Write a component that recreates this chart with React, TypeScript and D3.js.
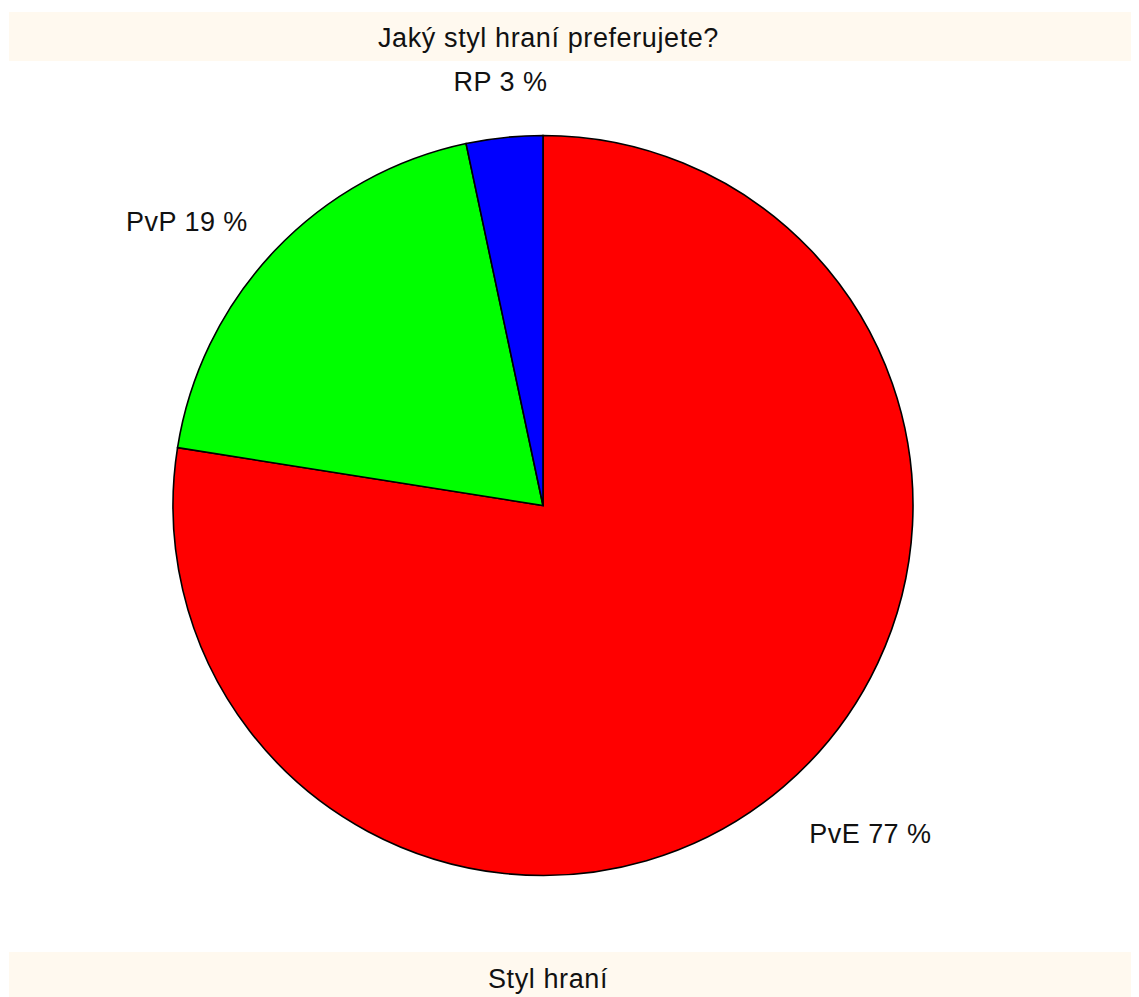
import React from "react";
import * as d3 from "d3";

const categories = ["PvE", "PvP", "RP"];
const counts = [93, 23, 4];
const percentLabels = ["77 %", "19 %", "3 %"];
const colors = ["#FF0000", "#00FF00", "#0000FF"];
const title = "Jaký styl hraní preferujete?";
const xTitle = "Styl hraní";

export default function App() {
  const W = 1139, H = 997;
  const cx = 543, cy = 505.5, r = 370;
  const fs = 27;
  const pie = d3.pie<number>().sort(null).value((d) => d)(counts);
  const arc = d3.arc<d3.PieArcDatum<number>>().innerRadius(0).outerRadius(r);
  const font = "'Liberation Sans', Arial, sans-serif";
  return (
    <svg width={W} height={H} style={{ position: "absolute", left: 0, top: 0 }}>
      <rect x={9} y={12} width={1122} height={49} fill="#FFF9EF" />
      <rect x={9} y={952} width={1122} height={45} fill="#FFF9EF" />
      <text x={548.5} y={46.5} textAnchor="middle" fontFamily={font} fontSize={fs} letterSpacing={0.6} fill="#111">{title}</text>
      <text x={548} y={988} textAnchor="middle" fontFamily={font} fontSize={fs} letterSpacing={0.6} fill="#111">{xTitle}</text>
      <g transform={`translate(${cx},${cy})`}>
        {pie.map((p, i) => (
          <path key={categories[i]} d={arc(p) || ""} fill={colors[i]} stroke="#000" strokeWidth={1.6} />
        ))}
        {pie.map((p, i) => {
          const a = (p.startAngle + p.endAngle) / 2;
          const s = Math.sin(a), c = Math.cos(a);
          const lx = s * r * 1.1, ly = -c * r * 1.1;
          const anchor = s > 0.3 ? "start" : s < -0.3 ? "end" : "middle";
          const dy = c > 0.9 ? -0.37 * fs : c < -0.3 ? 1.05 * fs : 0.22 * fs;
          return (
            <text key={"l" + i} x={lx + (s > 0.3 ? 2 : 0)} y={ly + dy} textAnchor={anchor} fontFamily={font} fontSize={fs} letterSpacing={0.45} fill="#111">
              {categories[i] + " " + percentLabels[i]}
            </text>
          );
        })}
      </g>
    </svg>
  );
}
